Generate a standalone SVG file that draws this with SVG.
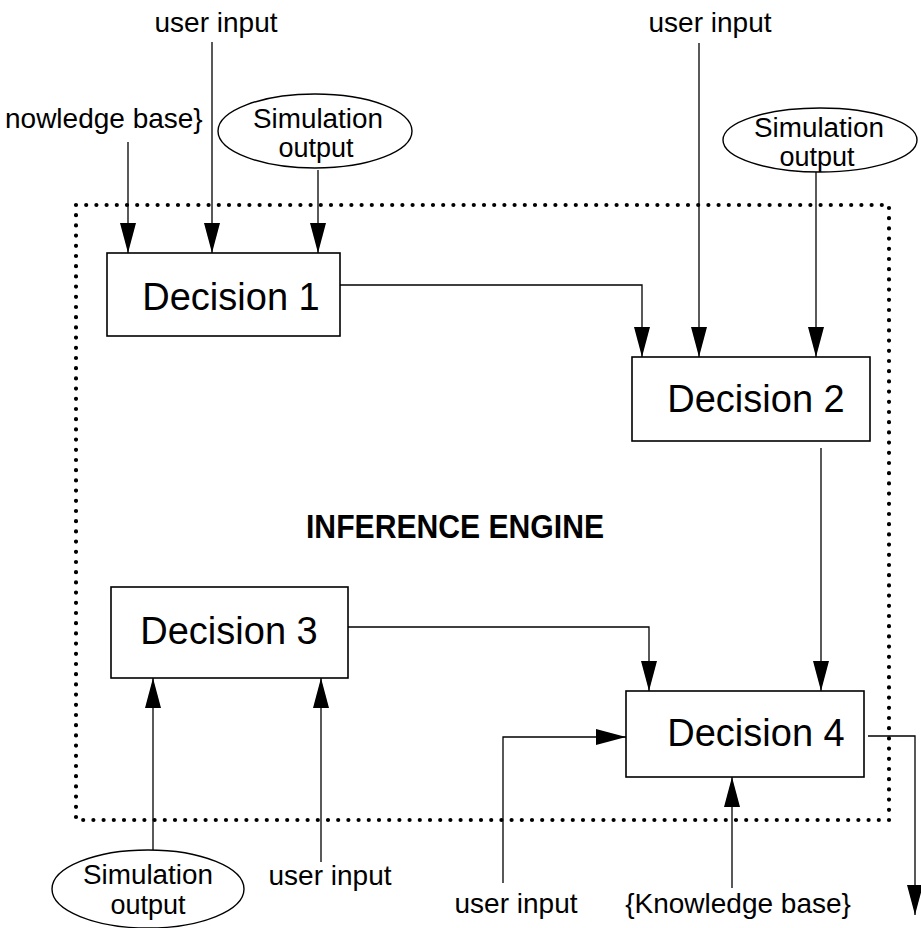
<svg xmlns="http://www.w3.org/2000/svg" width="921" height="928" viewBox="0 0 921 928">
  <style>
    .box { fill: #fff; stroke: #000; stroke-width: 1.6; }
    .oval { fill: #fff; stroke: #000; stroke-width: 1.4; }
    .wire { fill: none; stroke: #000; stroke-width: 1.3; }
    .dec { font-family: "Liberation Sans", Arial, sans-serif; font-size: 38px; fill: #000; }
    .lbl { font-family: "Liberation Sans", Arial, sans-serif; font-size: 28px; fill: #000; }
    .sim { font-family: "Liberation Sans", Arial, sans-serif; font-size: 27px; fill: #000; }
    .title { font-family: "Liberation Sans", Arial, sans-serif; font-size: 34px; font-weight: bold; fill: #000; }
    .frame { fill: none; stroke: #000; stroke-width: 4.2; stroke-linecap: round; stroke-dasharray: 0 10.2; }
  </style>
  <defs>
    <marker id="arrow" markerUnits="userSpaceOnUse" markerWidth="30" markerHeight="16" refX="30" refY="8" orient="auto">
      <path d="M0,0 L30,8 L0,16 z" fill="#000"/>
    </marker>
  </defs>

  <rect width="921" height="928" fill="#fff"/>

  <!-- inference engine boundary -->
  <g id="engine">
    <rect class="frame" x="76" y="205" width="813" height="615"/>
    <text class="title" x="455" y="538" text-anchor="middle" textLength="298" lengthAdjust="spacingAndGlyphs">INFERENCE ENGINE</text>
  </g>

  <!-- connectors -->
  <g id="connectors">
    <line class="wire" x1="128" y1="142" x2="128" y2="253" marker-end="url(#arrow)"/>
    <line class="wire" x1="212" y1="42" x2="212" y2="253" marker-end="url(#arrow)"/>
    <line class="wire" x1="318" y1="170" x2="318" y2="253" marker-end="url(#arrow)"/>
    <polyline class="wire" points="340,285 642,285 642,357" marker-end="url(#arrow)"/>
    <line class="wire" x1="699" y1="43" x2="699" y2="357" marker-end="url(#arrow)"/>
    <line class="wire" x1="816" y1="172" x2="816" y2="357" marker-end="url(#arrow)"/>
    <line class="wire" x1="821" y1="448" x2="821" y2="691" marker-end="url(#arrow)"/>
    <polyline class="wire" points="348,627 649,627 649,691" marker-end="url(#arrow)"/>
    <line class="wire" x1="153" y1="850" x2="153" y2="678" marker-end="url(#arrow)"/>
    <line class="wire" x1="321" y1="862" x2="321" y2="678" marker-end="url(#arrow)"/>
    <polyline class="wire" points="503,883 503,737 626,737" marker-end="url(#arrow)"/>
    <line class="wire" x1="732" y1="888" x2="732" y2="777" marker-end="url(#arrow)"/>
    <polyline class="wire" points="868,736 915,736 915,915" marker-end="url(#arrow)"/>
  </g>

  <!-- decision nodes -->
  <g id="decision1">
    <rect class="box" x="107" y="253" width="233" height="83"/>
    <text class="dec" x="231" y="310" text-anchor="middle">Decision 1</text>
  </g>
  <g id="decision2">
    <rect class="box" x="632" y="357" width="238" height="84"/>
    <text class="dec" x="756" y="412" text-anchor="middle">Decision 2</text>
  </g>
  <g id="decision3">
    <rect class="box" x="111" y="587" width="237" height="91"/>
    <text class="dec" x="229" y="644" text-anchor="middle">Decision 3</text>
  </g>
  <g id="decision4">
    <rect class="box" x="626" y="691" width="238" height="86"/>
    <text class="dec" x="756" y="746" text-anchor="middle">Decision 4</text>
  </g>

  <!-- simulation output sources -->
  <g id="sim1">
    <ellipse class="oval" cx="315" cy="131" rx="97" ry="37"/>
    <text class="sim" x="318" y="128" text-anchor="middle" textLength="130" lengthAdjust="spacingAndGlyphs">Simulation</text>
    <text class="sim" x="316" y="157" text-anchor="middle">output</text>
  </g>
  <g id="sim2">
    <ellipse class="oval" cx="820" cy="140" rx="97" ry="32"/>
    <text class="sim" x="819" y="137" text-anchor="middle" textLength="130" lengthAdjust="spacingAndGlyphs">Simulation</text>
    <text class="sim" x="817" y="166" text-anchor="middle">output</text>
  </g>
  <g id="sim3">
    <ellipse class="oval" cx="148" cy="889" rx="96" ry="39"/>
    <text class="sim" x="148" y="884" text-anchor="middle" textLength="130" lengthAdjust="spacingAndGlyphs">Simulation</text>
    <text class="sim" x="148" y="914" text-anchor="middle">output</text>
  </g>

  <!-- user input and knowledge base sources -->
  <g id="user1"><text class="lbl" x="216" y="32" text-anchor="middle">user input</text></g>
  <g id="user2"><text class="lbl" x="710" y="32" text-anchor="middle">user input</text></g>
  <g id="user3"><text class="lbl" x="330" y="885" text-anchor="middle">user input</text></g>
  <g id="user4"><text class="lbl" x="516" y="913" text-anchor="middle">user input</text></g>
  <g id="kb1"><text class="lbl" x="5" y="128">nowledge base}</text></g>
  <g id="kb2"><text class="lbl" x="738" y="913" text-anchor="middle">{Knowledge base}</text></g>
</svg>
